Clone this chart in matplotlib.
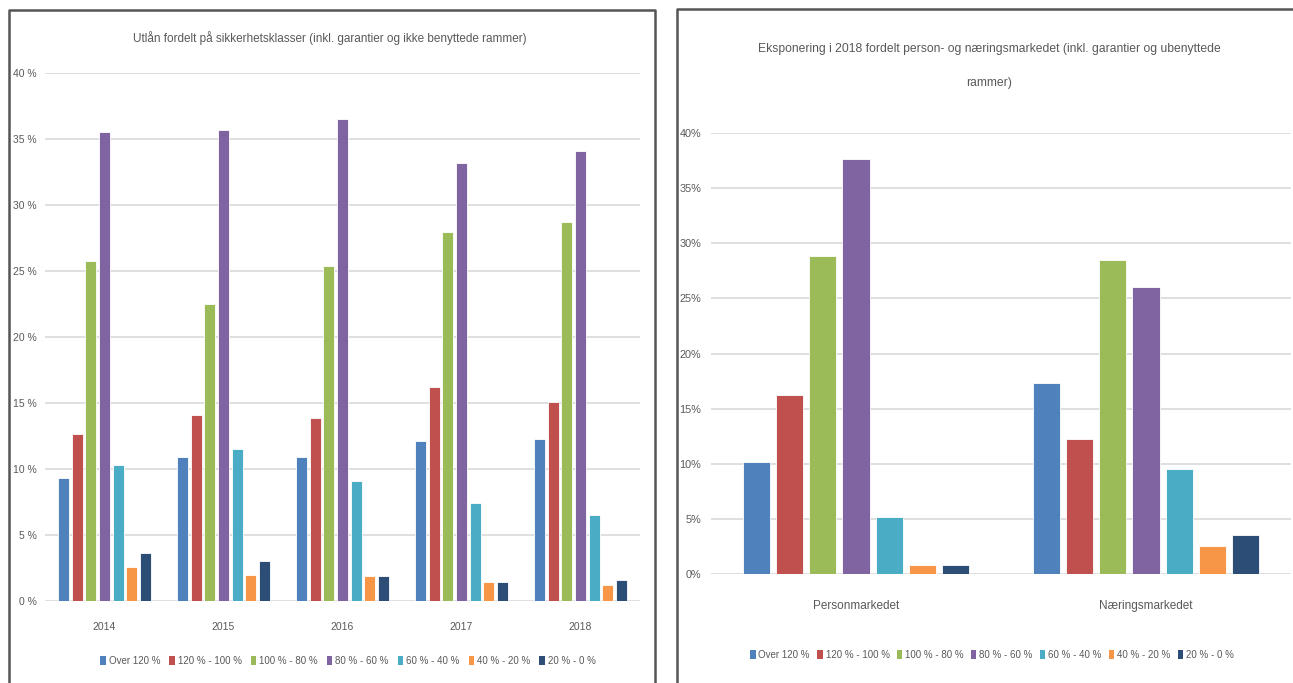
import matplotlib
matplotlib.use("Agg")
import matplotlib.pyplot as plt
import numpy as np
from matplotlib.patches import Patch
from matplotlib.lines import Line2D

plt.rcParams['font.family'] = ['Liberation Sans', 'DejaVu Sans']

series_labels = ["Over 120 %", "120 % - 100 %", "100 % - 80 %", "80 % - 60 %",
                 "60 % - 40 %", "40 % - 20 %", "20 % - 0 %"]
colors = ["#4F81BD", "#C0504D", "#9BBB59", "#8064A2", "#4BACC6", "#F79646", "#2C4D75"]

years = ["2014", "2015", "2016", "2017", "2018"]
over120 = [9.3, 10.9, 10.9, 12.1, 12.3]
s120_100 = [12.65, 14.1, 13.9, 16.25, 15.1]
s100_80 = [25.75, 22.5, 25.4, 27.95, 28.7]
s80_60 = [35.55, 35.7, 36.5, 33.2, 34.1]
s60_40 = [10.3, 11.55, 9.1, 7.4, 6.5]
s40_20 = [2.55, 2.0, 1.9, 1.45, 1.25]
s20_0 = [3.6, 3.05, 1.9, 1.45, 1.6]
left_values = [over120, s120_100, s100_80, s80_60, s60_40, s40_20, s20_0]

markets = ["Personmarkedet", "Næringsmarkedet"]
m_over120 = [10.2, 17.3]
m120_100 = [16.2, 12.2]
m100_80 = [28.8, 28.5]
m80_60 = [37.6, 26.0]
m60_40 = [5.15, 9.55]
m40_20 = [0.8, 2.5]
m20_0 = [0.8, 3.5]
right_values = [m_over120, m120_100, m100_80, m80_60, m60_40, m40_20, m20_0]

ticks = [0, 5, 10, 15, 20, 25, 30, 35, 40]
left_ticklabels = ["0 %", "5 %", "10 %", "15 %", "20 %", "25 %", "30 %", "35 %", "40 %"]
right_ticklabels = ["0%", "5%", "10%", "15%", "20%", "25%", "30%", "35%", "40%"]

text_color = "#595959"
grid_color = "#D9D9D9"

fig = plt.figure(figsize=(12.93, 6.83), dpi=100)

def draw(ax, cats, values, ticklabels, group=0.8, fill=0.82, tickpad=7, xpad=14,
         xfs=8, yfs=8):
    n = len(values)
    x = np.arange(len(cats))
    slot = group / n
    for i, (vals, c) in enumerate(zip(values, colors)):
        ax.bar(x - group / 2 + slot * (i + 0.5), vals, width=slot * fill, color=c,
               edgecolor="white", linewidth=0.6, zorder=3)
    ax.set_xlim(-0.5, len(cats) - 0.5)
    ax.set_ylim(0, 40)
    ax.set_yticks(ticks)
    ax.set_yticklabels(ticklabels, color=text_color, fontsize=yfs)
    ax.set_xticks(x)
    ax.set_xticklabels(cats, color=text_color, fontsize=xfs)
    ax.tick_params(axis='both', length=0)
    ax.tick_params(axis='y', pad=tickpad)
    ax.tick_params(axis='x', pad=xpad)
    for s in ax.spines.values():
        s.set_visible(False)
    ax.grid(axis='y', color=grid_color, linewidth=1.2, zorder=0)
    ax.set_axisbelow(True)

# Left chart
axL = fig.add_axes([45 / 1293, 82 / 683, 595 / 1293, 528 / 683])
draw(axL, years, left_values, left_ticklabels, tickpad=6, xpad=15, xfs=7.5, yfs=7.5)
fig.text(330 / 1293, 1 - 38 / 683,
         "Utlån fordelt på sikkerhetsklasser (inkl. garantier og ikke benyttede rammer)",
         ha="center", va="center", fontsize=8.5, color=text_color)

# Right chart
axR = fig.add_axes([711 / 1293, 109 / 683, 580 / 1293, 441 / 683])
draw(axR, markets, right_values, right_ticklabels, tickpad=7, xpad=19, xfs=8.5, yfs=7.8)
fig.text(989 / 1293, 1 - 66 / 683,
         "Eksponering i 2018 fordelt person- og næringsmarkedet (inkl. garantier og ubenyttede\nrammer)",
         ha="center", va="center", fontsize=8.7, color=text_color, linespacing=3.4)

handles = [Patch(facecolor=c, edgecolor="none") for c in colors]
fig.legend(handles, series_labels, loc="center", bbox_to_anchor=(348 / 1293, 1 - 661 / 683),
           ncol=7, frameon=False, fontsize=7, handlelength=0.55, handleheight=1.0,
           handletextpad=0.3, columnspacing=0.95, labelcolor=text_color)
fig.legend(handles, series_labels, loc="center", bbox_to_anchor=(992 / 1293, 1 - 655 / 683),
           ncol=7, frameon=False, fontsize=7, handlelength=0.55, handleheight=1.0,
           handletextpad=0.3, columnspacing=0.75, labelcolor=text_color)

# Panel borders
border = "#555555"
for xs, ys in [([9, 9, 655, 655], [683, 10, 10, 683]),
               ([677, 677, 1293], [683, 9, 9])]:
    fig.add_artist(Line2D([v / 1293 for v in xs], [1 - v / 683 for v in ys],
                          color=border, linewidth=1.8, transform=fig.transFigure))

fig.savefig("out.png", dpi=100)
